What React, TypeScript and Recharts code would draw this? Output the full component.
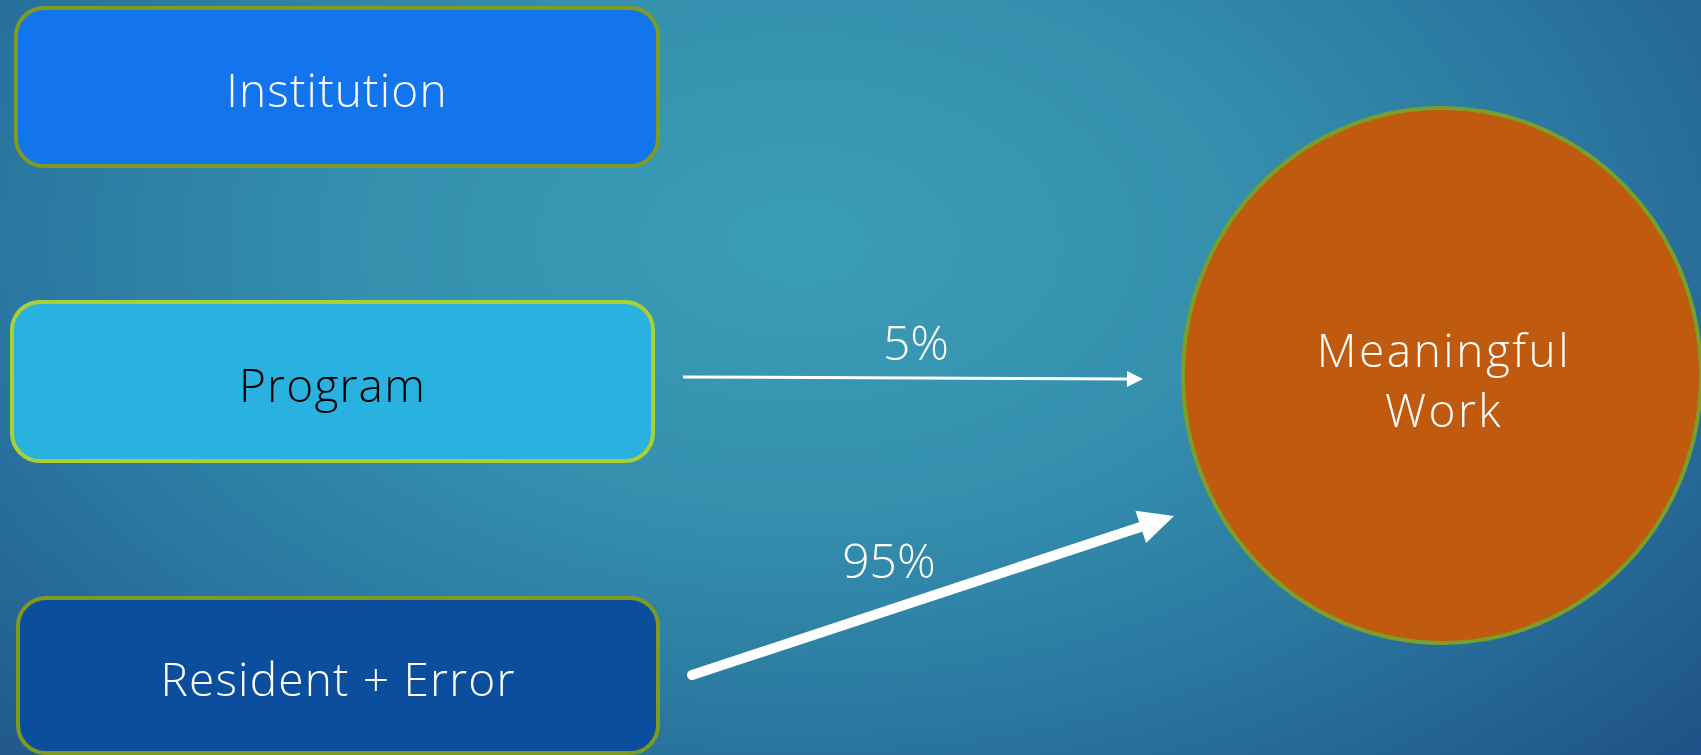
import React from 'react';
import { ComposedChart, XAxis, YAxis, ReferenceArea, ReferenceLine, Scatter } from 'recharts';

// ---------- data ----------
const sources = ['Institution', 'Program', 'Resident + Error'];
const target = ['Meaningful', 'Work'];
const flowShares = ['5%', '95%'];
const flowFrom = ['Program', 'Resident + Error'];

// ---------- layout / style (pixel units == axis units) ----------
const W = 1701;
const H = 755;
const FONT = "'Open Sans', 'DejaVu Sans', sans-serif";

const boxLayout = [
  { x1: 16, x2: 658, y1: 8, y2: 166, fill: '#1275EE', stroke: '#7F9B22', text: '#FFFFFF', weight: 300 },
  { x1: 12, x2: 653, y1: 302, y2: 461, fill: '#29B1E0', stroke: '#A9D133', text: '#000000', weight: 300 },
  { x1: 18, x2: 658, y1: 598, y2: 753, fill: '#0B4E9E', stroke: '#7E9A20', text: '#FFFFFF', weight: 300 },
];
const circleLayout = { x1: 1183, x2: 1701, y1: 108, y2: 643, fill: '#BF5A0E', stroke: '#7A9E2A' };
const arrowLayout = [
  { x1: 683, y1: 377, x2: 1143, y2: 379, w: 3, head: 16, half: 8, cap: 'butt' },
  { x1: 692, y1: 675, x2: 1174, y2: 516, w: 10, head: 35, half: 17, cap: 'round' },
];
const labelPoints = [
  { x: 916, y: 341, text: flowShares[0] },
  { x: 889, y: 559, text: flowShares[1] },
];

const makeBoxShape = (i: number) => (p: any) => {
  const s = boxLayout[i];
  const cx = p.x + p.width / 2;
  const cy = p.y + p.height / 2;
  return (
    <g>
      <rect x={p.x} y={p.y} width={p.width} height={p.height} rx={28} ry={28}
        fill={s.fill} stroke={s.stroke} strokeWidth={4} />
      <text x={cx} y={cy + 2} textAnchor="middle" dominantBaseline="central"
        fill={s.text} fontSize={46} fontWeight={s.weight} fontFamily={FONT} letterSpacing={1.2}>
        {sources[i]}
      </text>
    </g>
  );
};

const circleShape = (p: any) => {
  const cx = p.x + p.width / 2;
  const cy = p.y + p.height / 2;
  return (
    <g>
      <ellipse cx={cx} cy={cy} rx={p.width / 2} ry={p.height / 2}
        fill={circleLayout.fill} stroke={circleLayout.stroke} strokeWidth={4} />
      <text x={cx + 2} y={cy - 27} textAnchor="middle" dominantBaseline="central"
        fill="#FFFFFF" fontSize={46} fontWeight={300} fontFamily={FONT} letterSpacing={2.5}>{target[0]}</text>
      <text x={cx + 2} y={cy + 33} textAnchor="middle" dominantBaseline="central"
        fill="#FFFFFF" fontSize={46} fontWeight={300} fontFamily={FONT} letterSpacing={2.5}>{target[1]}</text>
    </g>
  );
};

const makeArrowShape = (i: number) => (p: any) => {
  const a = arrowLayout[i];
  const { x1, y1, x2, y2 } = p;
  const dx = x2 - x1;
  const dy = y2 - y1;
  const len = Math.sqrt(dx * dx + dy * dy) || 1;
  const ux = dx / len;
  const uy = dy / len;
  const nx = -uy;
  const ny = ux;
  const bx = x2 - ux * a.head;
  const by = y2 - uy * a.head;
  const pts = `${x2},${y2} ${bx + nx * a.half},${by + ny * a.half} ${bx - nx * a.half},${by - ny * a.half}`;
  return (
    <g>
      <line x1={x1} y1={y1} x2={bx + ux * 2} y2={by + uy * 2} stroke="#FFFFFF"
        strokeWidth={a.w} strokeLinecap={a.cap as any} />
      <polygon points={pts} fill="#FFFFFF" />
    </g>
  );
};

const labelShape = (p: any) => (
  <text x={p.cx} y={p.cy} textAnchor="middle" dominantBaseline="central"
    fill="#FFFFFF" fontSize={48} fontWeight={300} fontFamily={FONT}>
    {p.payload.text}
  </text>
);

export default function App() {
  return (
    <div
      style={{
        position: 'fixed',
        left: 0,
        top: 0,
        width: W,
        height: H,
        overflow: 'hidden',
        background:
          'radial-gradient(ellipse 72% 100% at 47% 32%, #3A9EB7 0%, #3590AE 35%, #2A77A0 65%, #1F5288 100%)',
      }}
    >
      <ComposedChart width={W} height={H} margin={{ top: 0, right: 0, bottom: 0, left: 0 }} data={labelPoints}>
        <XAxis type="number" dataKey="x" domain={[0, W]} allowDataOverflow hide />
        <YAxis type="number" dataKey="y" domain={[0, H]} reversed allowDataOverflow hide />
        {boxLayout.map((b, i) => (
          <ReferenceArea key={sources[i]} x1={b.x1} x2={b.x2} y1={b.y1} y2={b.y2}
            ifOverflow="visible" shape={makeBoxShape(i)} />
        ))}
        <ReferenceArea x1={circleLayout.x1} x2={circleLayout.x2} y1={circleLayout.y1} y2={circleLayout.y2}
          ifOverflow="visible" shape={circleShape} />
        {arrowLayout.map((a, i) => (
          <ReferenceLine key={flowFrom[i]} ifOverflow="visible"
            segment={[{ x: a.x1, y: a.y1 }, { x: a.x2, y: a.y2 }]}
            shape={makeArrowShape(i)} />
        ))}
        <Scatter data={labelPoints} dataKey="y" isAnimationActive={false} shape={labelShape} />
      </ComposedChart>
    </div>
  );
}
